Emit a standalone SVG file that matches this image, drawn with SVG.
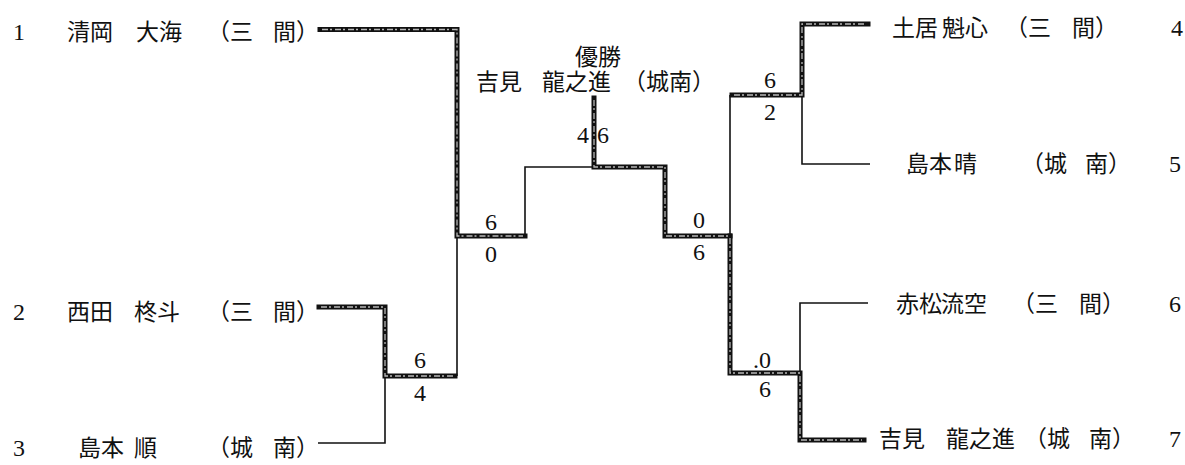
<svg xmlns="http://www.w3.org/2000/svg" width="1185" height="465" viewBox="0 0 1185 465">
<style>
  text { font-family: "Liberation Serif", "Noto Sans CJK JP", serif; fill: #111; }
  .nm { font-size: 23px; }
  .num { font-size: 24px; }
  .sc { font-size: 24px; }
  .thin { fill: none; stroke: #111; stroke-width: 1.6; }
  .thick { fill: none; stroke: #111; stroke-width: 5; stroke-linejoin: miter; stroke-linecap: square; }
  .core { fill: none; stroke: #b8b8b8; stroke-width: 1.3; stroke-dasharray: 6 2 2 3; }
</style>
<rect width="1185" height="465" fill="#ffffff"/>

<g id="connectors">
  <!-- thin lines -->
  <path class="thin" d="M457 236 V376"/>
  <path class="thin" d="M318 443 H385 V376"/>
  <path class="thin" d="M525 236 V167 H594"/>
  <path class="thin" d="M730 236 V95"/>
  <path class="thin" d="M802 95 V164 H870"/>
  <path class="thin" d="M800 373 V303 H868"/>
  <!-- thick (winner) lines -->
  <path class="thick" d="M320 29.5 H457 V236 H525"/>
  <path class="thick" d="M319 307 H385 V376 H455"/>
  <path class="thick" d="M594 98 V167 H665 V236 H730"/>
  <path class="thick" d="M732 95 H802 V24 H868"/>
  <path class="thick" d="M730 236 V373 H800 V440 H864"/>
  <path class="core" d="M322 29.5 H457 V236 H523"/>
  <path class="core" d="M321 307 H385 V376 H453"/>
  <path class="core" d="M594 100 V167 H665 V236 H728"/>
  <path class="core" d="M734 95 H802 V24 H866"/>
  <path class="core" d="M730 238 V373 H800 V440 H862"/>
</g>

<g id="scores">
  <text class="sc" x="485" y="230">6</text>
  <text class="sc" x="485" y="262">0</text>
  <text class="sc" x="414" y="368">6</text>
  <text class="sc" x="414" y="401">4</text>
  <text class="sc" x="577" y="143">4</text>
  <text class="sc" x="597" y="143">6</text>
  <text class="sc" x="693" y="228">0</text>
  <text class="sc" x="693" y="260">6</text>
  <text class="sc" x="764" y="88">6</text>
  <text class="sc" x="764" y="120">2</text>
  <text class="sc" x="771" y="368" text-anchor="end">.0</text>
  <text class="sc" x="759" y="397">6</text>
</g>

<g id="champion">
  <text class="nm" x="598" y="65" text-anchor="middle">優勝</text>
  <text class="nm" x="476" y="90">吉見</text>
  <text class="nm" x="542" y="90">龍之進</text>
  <text class="nm" x="623" y="90">（城南）</text>
</g>

<g id="player1">
  <text class="num" x="13" y="40">1</text>
  <text class="nm" x="67" y="40">清岡</text>
  <text class="nm" x="136" y="40">大海</text>
  <text class="nm" x="207" y="40">（三</text>
  <text class="nm" x="273" y="40">間）</text>
</g>

<g id="player2">
  <text class="num" x="13" y="320">2</text>
  <text class="nm" x="67" y="320">西田</text>
  <text class="nm" x="134" y="320">柊斗</text>
  <text class="nm" x="207" y="320">（三</text>
  <text class="nm" x="273" y="320">間）</text>
</g>

<g id="player3">
  <text class="num" x="13" y="456">3</text>
  <text class="nm" x="78" y="456">島本</text>
  <text class="nm" x="134" y="456">順</text>
  <text class="nm" x="207" y="456">（城</text>
  <text class="nm" x="273" y="456">南）</text>
</g>

<g id="player4">
  <text class="nm" x="892" y="36">土居</text>
  <text class="nm" x="942" y="36">魁心</text>
  <text class="nm" x="1005" y="36">（三</text>
  <text class="nm" x="1072" y="36">間）</text>
  <text class="num" x="1171" y="36">4</text>
</g>

<g id="player5">
  <text class="nm" x="906" y="172">島本</text>
  <text class="nm" x="954" y="172">晴</text>
  <text class="nm" x="1021" y="172">（城</text>
  <text class="nm" x="1085" y="172">南）</text>
  <text class="num" x="1169" y="172">5</text>
</g>

<g id="player6">
  <text class="nm" x="896" y="312">赤松</text>
  <text class="nm" x="941" y="312">流空</text>
  <text class="nm" x="1012" y="312">（三</text>
  <text class="nm" x="1079" y="312">間）</text>
  <text class="num" x="1169" y="312">6</text>
</g>

<g id="player7">
  <text class="nm" x="879" y="447">吉見</text>
  <text class="nm" x="946" y="447">龍之進</text>
  <text class="nm" x="1024" y="447">（城</text>
  <text class="nm" x="1089" y="447">南）</text>
  <text class="num" x="1169" y="447">7</text>
</g>
</svg>
